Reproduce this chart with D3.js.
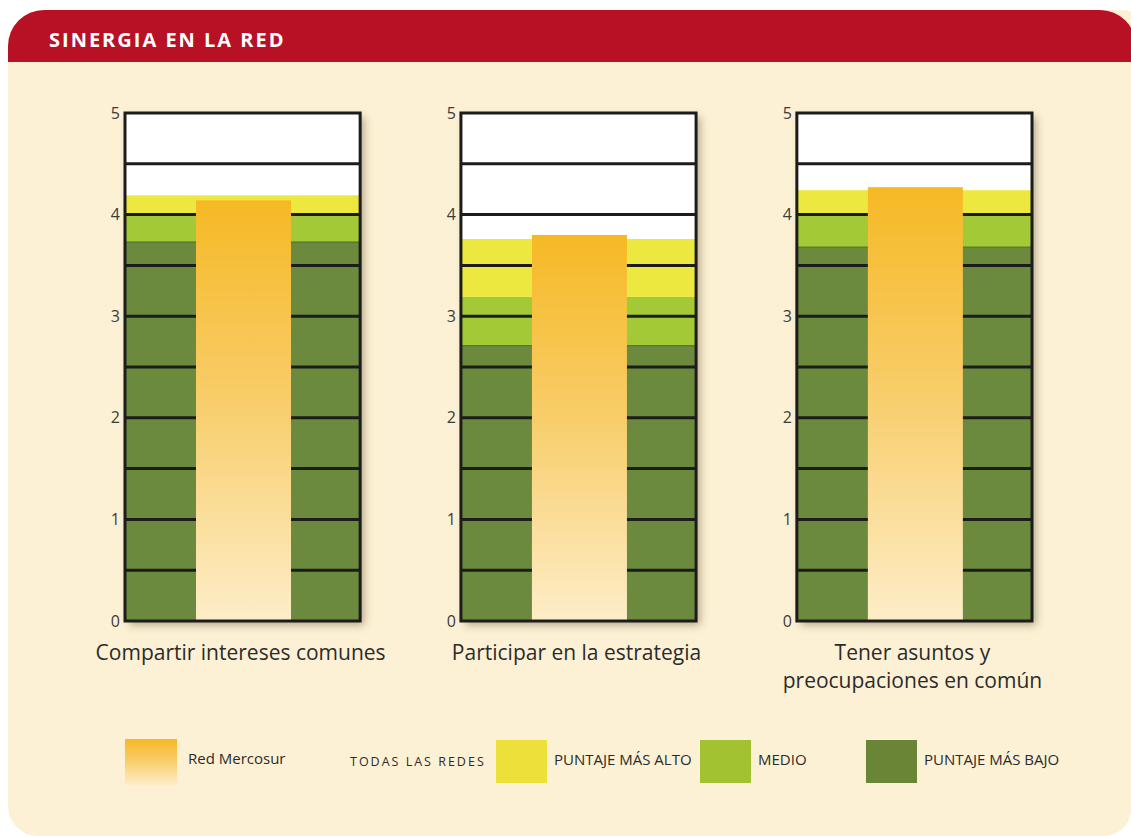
<!DOCTYPE html>
<html>
<head>
<meta charset="utf-8">
<script src="https://cdn.jsdelivr.net/npm/d3@7"></script>
<style>
  html, body { margin: 0; padding: 0; background: #ffffff; }
  svg { display: block; font-family: "Open Sans", "DejaVu Sans", sans-serif; }
</style>
</head>
<body>
<div id="chart"></div>
<script>
// Chart data
const categories = ["Compartir intereses comunes", "Participar en la estrategia", "Tener asuntos y preocupaciones en común"];
const categoryLines = [["Compartir intereses comunes"], ["Participar en la estrategia"], ["Tener asuntos y", "preocupaciones en común"]];
const redMercosur = [4.14, 3.80, 4.27];
const puntajeBajo = [3.73, 2.71, 3.68];
const medio = [4.00, 3.19, 4.00];
const puntajeAlto = [4.19, 3.76, 4.24];
const yTicks = [0, 1, 2, 3, 4, 5];
const gridValues = [0.5, 1, 1.5, 2, 2.5, 3, 3.5, 4, 4.5];

const width = 1131;
const height = 836;

const svg = d3.select("#chart")
    .append("svg")
    .attr("width", width)
    .attr("height", height);

const defs = svg.append("defs");

// Orange gradient for Red Mercosur bars
const grad = defs.append("linearGradient")
    .attr("id", "orangeGrad")
    .attr("x1", 0).attr("y1", 0).attr("x2", 0).attr("y2", 1);
grad.append("stop").attr("offset", "0%").attr("stop-color", "#f6b925");
grad.append("stop").attr("offset", "45%").attr("stop-color", "#f8cc66");
grad.append("stop").attr("offset", "100%").attr("stop-color", "#fdedc8");

// Drop shadow for each panel frame
const shadow = defs.append("filter")
    .attr("id", "shadow")
    .attr("x", "-10%").attr("y", "-10%").attr("width", "130%").attr("height", "130%");
shadow.append("feDropShadow")
    .attr("dx", 4).attr("dy", 4)
    .attr("stdDeviation", 4)
    .attr("flood-color", "#5a4a2a")
    .attr("flood-opacity", 0.45);

// Card background and header
svg.append("rect")
    .attr("x", 8).attr("y", 10)
    .attr("width", 1150).attr("height", 860)
    .attr("rx", 36)
    .attr("fill", "#fdf1d5");

svg.append("path")
    .attr("d", "M8,62 L8,46 A36,36 0 0 1 44,10 L1100,10 A36,36 0 0 1 1136,46 L1136,62 Z")
    .attr("fill", "#b81126");

// bottom corners of the card
svg.append("path")
    .attr("d", "M0,800 L8,800 L8,806 A30,30 0 0 0 38,836 L0,836 Z")
    .attr("fill", "#ffffff");
svg.append("path")
    .attr("d", "M1131,812 A28,28 0 0 1 1107,836 L1131,836 Z")
    .attr("fill", "#ffffff");

svg.append("text")
    .attr("x", 49).attr("y", 47)
    .attr("fill", "#ffffff")
    .attr("font-size", "20px")
    .attr("font-weight", "bold")
    .attr("letter-spacing", "2px")
    .text("SINERGIA EN LA RED");

// Scales
const x = d3.scaleBand()
    .domain(categories)
    .range([125, 1032])
    .paddingInner(0.3)
    .paddingOuter(0);

const y = d3.scaleLinear()
    .domain([0, 5])
    .range([621, 113]);

// inner bar position inside each band
const inner = d3.scaleLinear().domain([0, 1]).range([0, x.bandwidth()]);
const barStart = 0.302;
const barEnd = 0.706;

const panels = svg.selectAll(".panel")
    .data(categories)
    .enter()
    .append("g")
    .attr("class", "panel")
    .attr("transform", d => `translate(${x(d)},0)`);

// white background with shadow
panels.append("rect")
    .attr("x", 0)
    .attr("y", y(5))
    .attr("width", x.bandwidth())
    .attr("height", y(0) - y(5))
    .attr("fill", "#ffffff")
    .attr("filter", "url(#shadow)");

// stacked reference bands
panels.append("rect")
    .attr("x", 0)
    .attr("y", (d, i) => y(puntajeBajo[i]))
    .attr("width", x.bandwidth())
    .attr("height", (d, i) => y(0) - y(puntajeBajo[i]))
    .attr("fill", "#6b8a3d");

panels.append("rect")
    .attr("x", 0)
    .attr("y", (d, i) => y(medio[i]))
    .attr("width", x.bandwidth())
    .attr("height", (d, i) => y(puntajeBajo[i]) - y(medio[i]))
    .attr("fill", "#a3c937");

panels.append("rect")
    .attr("x", 0)
    .attr("y", (d, i) => y(puntajeAlto[i]))
    .attr("width", x.bandwidth())
    .attr("height", (d, i) => y(medio[i]) - y(puntajeAlto[i]))
    .attr("fill", "#ede83f");

// thin line on top of the dark green
panels.append("line")
    .attr("x1", 0)
    .attr("x2", x.bandwidth())
    .attr("y1", (d, i) => y(puntajeBajo[i]))
    .attr("y2", (d, i) => y(puntajeBajo[i]))
    .attr("stroke", "#4a6a1c")
    .attr("stroke-width", 1);

// gridlines
panels.each(function () {
    d3.select(this).selectAll(".grid")
        .data(gridValues)
        .enter()
        .append("line")
        .attr("class", "grid")
        .attr("x1", 0)
        .attr("x2", x.bandwidth())
        .attr("y1", d => y(d))
        .attr("y2", d => y(d))
        .attr("stroke", "#1c1c1c")
        .attr("stroke-width", 3);
});

// Red Mercosur bar
panels.append("rect")
    .attr("x", inner(barStart))
    .attr("y", (d, i) => y(redMercosur[i]))
    .attr("width", inner(barEnd) - inner(barStart))
    .attr("height", (d, i) => y(0) - y(redMercosur[i]))
    .attr("fill", "url(#orangeGrad)");

// frame
panels.append("rect")
    .attr("x", 0)
    .attr("y", y(5))
    .attr("width", x.bandwidth())
    .attr("height", y(0) - y(5))
    .attr("fill", "none")
    .attr("stroke", "#1c1c1c")
    .attr("stroke-width", 3);

// y axis labels
panels.each(function () {
    const axis = d3.axisLeft(y)
        .tickValues(yTicks)
        .tickFormat(d3.format("d"))
        .tickSize(0)
        .tickPadding(5);
    const g = d3.select(this).append("g").call(axis);
    g.select(".domain").remove();
    g.selectAll("text")
        .attr("font-size", "16px")
        .attr("fill", "#3a3a3a")
        .attr("font-family", "'Open Sans', sans-serif");
});

// category labels
panels.append("text")
    .attr("x", x.bandwidth() / 2 - 2)
    .attr("y", 660)
    .attr("text-anchor", "middle")
    .attr("font-size", "21px")
    .attr("fill", "#2b2b2b")
    .selectAll("tspan")
    .data((d, i) => categoryLines[i])
    .enter()
    .append("tspan")
    .attr("x", x.bandwidth() / 2 - 2)
    .attr("dy", (d, j) => j === 0 ? 0 : 28)
    .text(d => d);

// Legend
const legend = svg.append("g").attr("class", "legend");

legend.append("rect")
    .attr("x", 125).attr("y", 739)
    .attr("width", 52).attr("height", 46)
    .attr("fill", "url(#orangeGrad)");
legend.append("text")
    .attr("x", 188).attr("y", 764)
    .attr("font-size", "15px")
    .attr("fill", "#2b2b2b")
    .text("Red Mercosur");

legend.append("text")
    .attr("x", 350).attr("y", 766)
    .attr("font-size", "12.5px")
    .attr("letter-spacing", "2px")
    .attr("fill", "#2b2b2b")
    .text("TODAS LAS REDES");

const legendItems = [
    { label: "PUNTAJE MÁS ALTO", color: "#ede03a", x: 496 },
    { label: "MEDIO", color: "#a3c232", x: 700 },
    { label: "PUNTAJE MÁS BAJO", color: "#6b8537", x: 866 }
];

const items = legend.selectAll(".item")
    .data(legendItems)
    .enter()
    .append("g")
    .attr("class", "item");

items.append("rect")
    .attr("x", d => d.x).attr("y", 740)
    .attr("width", 51).attr("height", 43)
    .attr("fill", d => d.color);

items.append("text")
    .attr("x", d => d.x + 58).attr("y", 765)
    .attr("font-size", "15px")
    .attr("fill", "#2b2b2b")
    .text(d => d.label);
</script>
</body>
</html>
